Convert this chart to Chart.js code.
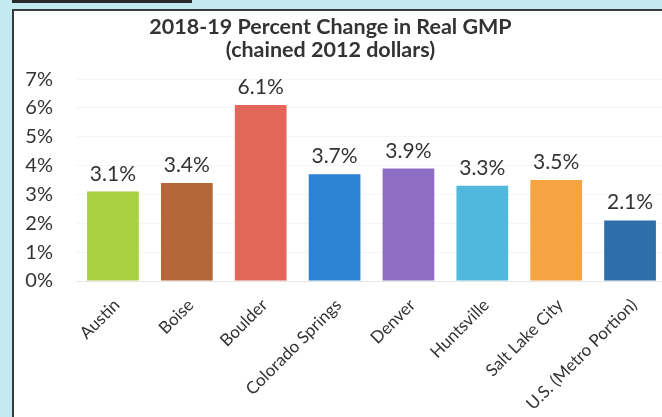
<!DOCTYPE html>
<html>
<head>
<meta charset="utf-8">
<script src="https://cdn.jsdelivr.net/npm/chart.js@4.4.1/dist/chart.umd.min.js"></script>
<style>
  html, body { margin: 0; padding: 0; width: 662px; height: 417px; overflow: hidden; background: #c3eaf1; }
  #topline { position: absolute; left: 12px; top: 0; width: 180px; height: 3px; background: #2a2a2a; }
  #box { position: absolute; left: 12px; top: 9px; width: 680px; height: 440px; background: #fff; border: 2px solid #3a3a3a; box-sizing: border-box; }
  #c { position: absolute; left: 0; top: 0; }
</style>
</head>
<body>
<div id="topline"></div>
<div id="box"><canvas id="c" width="664" height="436"></canvas></div>
<script>
const categories = ["Austin", "Boise", "Boulder", "Colorado Springs", "Denver", "Huntsville", "Salt Lake City", "U.S. (Metro Portion)"];
const growthPct = [3.1, 3.4, 6.1, 3.7, 3.9, 3.3, 3.5, 2.1];
const barColors = ["#a8d040", "#b5673a", "#e2675a", "#2b83d6", "#8d6ec4", "#4fb8dc", "#f6a344", "#2d6fa8"];
const titleLines = ["2018-19 Percent Change in Real GMP", "(chained 2012 dollars)"];
const yMin = 0, yMax = 7, yStep = 1;

const FONT = "Lato, 'Open Sans', sans-serif";

const valueLabels = {
  id: 'valueLabels',
  afterDatasetsDraw(chart) {
    const ctx = chart.ctx;
    const meta = chart.getDatasetMeta(0);
    ctx.save();
    ctx.font = "21px " + FONT;
    ctx.fillStyle = "#333";
    ctx.textAlign = "center";
    ctx.textBaseline = "alphabetic";
    meta.data.forEach((bar, i) => {
      ctx.fillText(growthPct[i].toFixed(1) + "%", bar.x, bar.y - 11);
    });
    ctx.restore();
  }
};

const titleShift = {
  id: 'titleShift',
  afterLayout(chart) {
    const t = chart.titleBlock;
    if (t) { t.left -= 10; t.right -= 10; }
  }
};

new Chart(document.getElementById('c'), {
  type: 'bar',
  data: {
    labels: categories,
    datasets: [{
      data: growthPct,
      backgroundColor: barColors,
      borderWidth: 0,
      categoryPercentage: 1.0,
      barPercentage: 0.7
    }]
  },
  options: {
    responsive: false,
    animation: false,
    layout: { padding: { left: 0, right: 11, top: 0, bottom: 0 } },
    plugins: {
      legend: { display: false },
      tooltip: { enabled: false },
      title: {
        display: true,
        text: titleLines,
        color: "#333",
        font: { family: FONT, size: 21.5, weight: 'bold', lineHeight: 1.05 },
        padding: { top: 5, bottom: 18 }
      }
    },
    scales: {
      x: {
        grid: { display: false },
        border: { display: true, color: "#e6e6e6" },
        afterFit: s => { s.height = 166; },
        ticks: {
          color: "#333",
          font: { family: FONT, size: 17 },
          maxRotation: 45,
          minRotation: 45,
          autoSkip: false,
          padding: 6,
          labelOffset: 4
        }
      },
      y: {
        min: yMin,
        max: yMax,
        grid: { color: "#f6f6f6", drawTicks: false },
        border: { display: false },
        afterFit: s => { s.width = 62; },
        ticks: {
          stepSize: yStep,
          color: "#333",
          font: { family: FONT, size: 20 },
          padding: 23,
          callback: v => v + "%"
        }
      }
    }
  },
  plugins: [valueLabels, titleShift]
});
</script>
</body>
</html>
